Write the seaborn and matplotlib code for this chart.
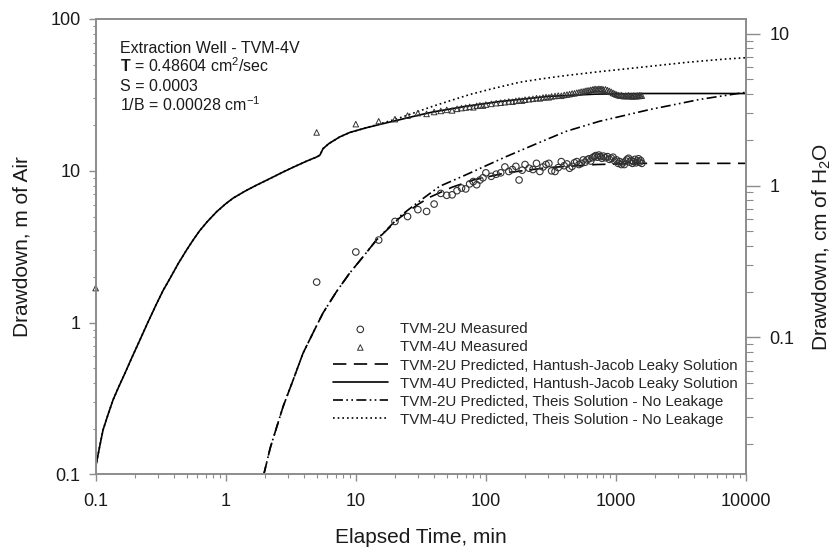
import seaborn as sns
import matplotlib.pyplot as plt
from matplotlib.ticker import FuncFormatter, NullFormatter, LogLocator, FixedLocator

sns.set_style("ticks")
plt.rcParams['font.family'] = ['Liberation Sans', 'DejaVu Sans']
plt.rcParams['mathtext.fontset'] = 'custom'
plt.rcParams['mathtext.rm'] = 'Liberation Sans'
plt.rcParams['mathtext.bf'] = 'Liberation Sans:bold'
plt.rcParams['mathtext.it'] = 'Liberation Sans:italic'

# measured drawdown, TVM-2U (circles)
t_2u = [5, 10, 15, 20, 25, 30, 35, 40, 45, 50, 55, 60, 65, 70, 75, 80, 85, 90, 95, 100,
        110, 120, 130, 140, 150, 160, 170, 180, 190, 200, 215, 230, 245, 260, 275, 290,
        305, 320, 340, 360, 380, 400, 420, 440, 460, 480, 500, 520, 540, 560, 580, 600,
        620, 640, 660, 680, 700, 720, 740, 760, 780, 800, 830, 860, 890, 920, 950, 980,
        1010, 1040, 1070, 1100, 1130, 1160, 1190, 1220, 1250, 1280, 1310, 1340, 1370,
        1400, 1430, 1460, 1490, 1520, 1550, 1580]
s_2u = [1.85, 2.92, 3.5, 4.64, 5.0, 5.55, 5.4, 6.04, 7.1, 6.9, 6.95, 7.4, 7.7, 7.6, 8.2,
        8.5, 8.1, 8.7, 9.0, 9.7, 9.2, 9.5, 9.7, 10.6, 9.9, 10.2, 10.7, 8.7, 10.1, 11.0,
        10.4, 10.2, 11.2, 9.9, 10.6, 11.0, 11.2, 10.0, 9.9, 10.5, 11.5, 10.8, 11.1, 10.4,
        10.7, 11.3, 11.5, 11.0, 11.2, 11.8, 11.4, 11.8, 12.0, 11.6, 12.2, 12.4, 12.6, 12.3,
        12.7, 12.4, 12.1, 12.5, 12.2, 12.4, 11.9, 12.1, 12.3, 11.6, 11.8, 11.2, 11.5, 11.0,
        11.3, 11.0, 11.6, 11.9, 12.1, 11.4, 11.7, 11.2, 11.5, 11.9, 11.3, 11.6, 12.0, 11.4,
        11.7, 11.2]

# measured drawdown, TVM-4U (triangles)
t_4u = [0.1, 5, 10, 15, 20, 25, 30, 35, 40, 45, 50, 55, 60, 65, 70, 75, 80, 85, 90, 95,
        100, 110, 120, 130, 140, 150, 160, 170, 180, 190, 200, 215, 230, 245, 260, 275,
        290, 305, 320, 340, 360, 380, 400, 420, 440, 460, 480, 500, 520, 540, 560, 580,
        600, 620, 640, 660, 680, 700, 720, 740, 760, 780, 800, 830, 860, 890, 920, 950,
        980, 1010, 1040, 1070, 1100, 1130, 1160, 1190, 1220, 1250, 1280, 1310, 1340, 1370,
        1400, 1430, 1460, 1490, 1520, 1550, 1580]
s_4u = [1.69, 17.9, 20.3, 21.2, 21.9, 23.1, 24.0, 23.7, 24.4, 24.8, 25.2, 25.0, 25.6,
        25.9, 26.1, 26.4, 26.2, 26.8, 27.0, 26.9, 27.3, 27.6, 27.9, 28.1, 28.3, 28.6, 28.5,
        28.9, 29.1, 29.0, 29.4, 29.6, 29.8, 30.1, 30.0, 30.4, 30.6, 30.5, 30.9, 31.1, 31.3,
        31.2, 31.6, 31.8, 32.0, 32.3, 32.4, 32.7, 32.9, 33.2, 33.3, 33.6, 33.8, 33.9, 34.1,
        34.3, 34.5, 34.6, 34.4, 34.7, 34.5, 34.6, 34.3, 34.4, 34.0, 33.6, 33.1, 32.6, 32.2,
        31.8, 31.6, 31.3, 31.5, 31.2, 31.0, 31.3, 31.1, 31.4, 31.0, 31.2, 30.9, 31.3, 31.1,
        31.0, 31.3, 31.1, 31.4, 31.2, 31.3]

# predicted, Hantush-Jacob leaky, TVM-2U
t_hj2 = [1.95, 2.2, 2.76, 3.3, 3.93, 4.7, 5.6, 7.1, 8.97, 11.5, 14.4, 21.7, 30, 37, 55,
         80, 143, 300, 700, 1600, 10000]
s_hj2 = [0.098, 0.15, 0.28, 0.42, 0.63, 0.86, 1.16, 1.6, 2.12, 2.75, 3.5, 4.9, 6.0, 6.7,
         7.8, 8.7, 9.7, 10.5, 11.0, 11.2, 11.2]

# predicted, Hantush-Jacob leaky, TVM-4U
t_hj4 = [0.1, 0.107, 0.114, 0.125, 0.136, 0.15, 0.168, 0.19, 0.219, 0.25, 0.29, 0.33,
         0.372, 0.43, 0.5, 0.56, 0.63, 0.72, 0.85, 1.0, 1.14, 1.4, 1.7, 2.06, 2.4, 2.76,
         3.2, 3.7, 4.2, 4.7, 5.0, 5.3, 5.6, 6.2, 7.5, 9.0, 12, 16, 21.7, 30, 39, 70, 127,
         300, 700, 1600, 10000]
s_hj4 = [0.112, 0.151, 0.197, 0.251, 0.31, 0.376, 0.465, 0.59, 0.77, 0.99, 1.30, 1.63,
         1.95, 2.44, 3.01, 3.49, 4.03, 4.62, 5.37, 6.07, 6.61, 7.33, 8.0, 8.67, 9.25, 9.82,
         10.43, 11.04, 11.6, 12.07, 12.33, 12.7, 14.0, 15.1, 16.7, 17.9, 19.2, 20.4, 21.7,
         23.2, 24.4, 26.6, 28.6, 30.9, 32.0, 32.3, 32.3]

# predicted, Theis (no leakage), TVM-2U
t_th2 = [1.95, 2.2, 2.76, 3.3, 3.93, 4.7, 5.6, 7.1, 8.97, 11.5, 14.4, 21.7, 30, 44, 70,
         100, 143, 250, 414, 747, 1200, 1807, 3000, 4375, 7000, 10000]
s_th2 = [0.098, 0.15, 0.28, 0.42, 0.63, 0.86, 1.16, 1.6, 2.12, 2.75, 3.5, 5.0, 6.2, 7.9,
         9.4, 10.8, 12.4, 15.2, 18.2, 21.2, 23.3, 25.3, 27.6, 29.5, 31.4, 32.9]

# predicted, Theis (no leakage), TVM-4U
t_th4 = t_hj4[:37] + [16, 21.7, 40, 75, 110, 181, 260, 400, 747, 1300, 2000, 3500, 5000,
                      7000, 10000]
s_th4 = s_hj4[:37] + [20.6, 22.3, 26.8, 31.8, 34.6, 38.3, 40.2, 42.3, 45.0, 47.3, 49.2,
                      51.8, 53.2, 54.5, 55.6]

lab_m2 = "TVM-2U Measured"
lab_m4 = "TVM-4U Measured"
lab_hj2 = "TVM-2U Predicted, Hantush-Jacob Leaky Solution"
lab_hj4 = "TVM-4U Predicted, Hantush-Jacob Leaky Solution"
lab_th2 = "TVM-2U Predicted, Theis Solution - No Leakage"
lab_th4 = "TVM-4U Predicted, Theis Solution - No Leakage"

air_per_water = 8.0  # m of air per cm of H2O
gray = '#8c8c8c'

fig = plt.figure(figsize=(8.37, 5.52), dpi=100)
ax = fig.add_axes([0.1143, 0.1404, 0.7770, 0.8252])
ax.set_xscale('log')
ax.set_yscale('log')

line_kw = dict(color='black', lw=1.2, estimator=None, sort=False, ax=ax)
sns.lineplot(x=t_th4, y=s_th4, linestyle=(0, (1, 1.8)), label=lab_th4, **line_kw)
sns.lineplot(x=t_th2, y=s_th2, linestyle=(0, (6, 2, 1, 2, 1, 2)), label=lab_th2, **line_kw)
sns.lineplot(x=t_hj2, y=s_hj2, linestyle=(0, (8, 4.5)), label=lab_hj2, **line_kw)
sns.lineplot(x=t_hj4, y=s_hj4, linestyle='-', label=lab_hj4, **line_kw)

sns.scatterplot(x=t_2u, y=s_2u, marker='o', s=22, facecolor='none', edgecolor='#333333',
                linewidth=0.8, label=lab_m2, ax=ax, zorder=3, clip_on=False)
sns.scatterplot(x=t_4u, y=s_4u, marker='^', s=16, facecolor='none', edgecolor='#333333',
                linewidth=0.7, label=lab_m4, ax=ax, zorder=3, clip_on=False)

ax.set_xlim(0.1, 10000)
ax.set_ylim(0.1, 100)

fmt = FuncFormatter(lambda v, _: f"{v:g}")
ax.xaxis.set_major_locator(FixedLocator([0.1, 1, 10, 100, 1000, 10000]))
ax.yaxis.set_major_locator(FixedLocator([0.1, 1, 10, 100]))
ax.xaxis.set_major_formatter(fmt)
ax.yaxis.set_major_formatter(fmt)
ax.xaxis.set_minor_locator(LogLocator(base=10, subs=range(2, 10), numticks=20))
ax.yaxis.set_minor_locator(LogLocator(base=10, subs=range(2, 10), numticks=20))
ax.xaxis.set_minor_formatter(NullFormatter())
ax.yaxis.set_minor_formatter(NullFormatter())

ax.tick_params(axis='x', which='major', direction='out', length=5, width=1, color=gray,
               labelsize=13, labelcolor='#1a1a1a', pad=8.5)
ax.tick_params(axis='x', which='minor', direction='out', length=3, width=0.8, color=gray)
ax.tick_params(axis='y', which='major', direction='out', length=5, width=1, color=gray,
               labelsize=13, labelcolor='#1a1a1a', pad=5.8)
ax.tick_params(axis='y', which='minor', direction='out', length=2, width=0.8, color=gray)

ax2 = ax.twinx()
ax2.set_yscale('log')
ax2.set_ylim(0.1 / air_per_water, 100 / air_per_water)
ax2.yaxis.set_major_locator(FixedLocator([0.1, 1, 10]))
ax2.yaxis.set_major_formatter(fmt)
ax2.yaxis.set_minor_locator(LogLocator(base=10, subs=range(2, 10), numticks=20))
ax2.yaxis.set_minor_formatter(NullFormatter())
ax2.tick_params(axis='y', which='major', direction='out', length=10, width=1, color=gray,
                labelsize=13, labelcolor='#1a1a1a', pad=7)
ax2.tick_params(axis='y', which='minor', direction='out', length=5, width=0.8, color=gray)

for a in (ax, ax2):
    for sp in a.spines.values():
        sp.set_visible(True)
        sp.set_color(gray)
        sp.set_linewidth(1.2)

ax.set_xlabel("Elapsed Time, min", fontsize=15, color='#1a1a1a', va='center')
ax.xaxis.set_label_coords(0.5, -0.139)
ax.set_ylabel("Drawdown, m of Air", fontsize=15, color='#1a1a1a', va='center')
ax.yaxis.set_label_coords(-0.113, 0.5)
ax2.set_ylabel("Drawdown, cm of H$_2$O", fontsize=15, color='#1a1a1a', va='center',
               rotation=90)
ax2.yaxis.set_label_coords(1.117, 0.5)

txt_kw = dict(transform=ax.transAxes, fontsize=11.5, color='#1a1a1a', va='baseline', ha='left')
ax.text(0.0374, 0.9247, "Extraction Well - TVM-4V", **txt_kw)
ax.text(0.0374, 0.8826, r"$\mathbf{T}$ = 0.48604 cm$^2$/sec", **txt_kw)
ax.text(0.0374, 0.8409, "S = 0.0003", **txt_kw)
ax.text(0.0374, 0.7991, "1/B = 0.00028 cm$^{-1}$", **txt_kw)

handles, labels = ax.get_legend_handles_labels()
order = [lab_m2, lab_m4, lab_hj2, lab_hj4, lab_th2, lab_th4]
hmap = dict(zip(labels, handles))
ax.legend([hmap[k] for k in order], order, loc='upper left', bbox_to_anchor=(0.365, 0.334),
          frameon=False, fontsize=10.9, borderaxespad=0, borderpad=0, handlelength=3.6,
          handletextpad=0.8, labelspacing=0.27, scatterpoints=1)

fig.savefig("out.png", dpi=100)
